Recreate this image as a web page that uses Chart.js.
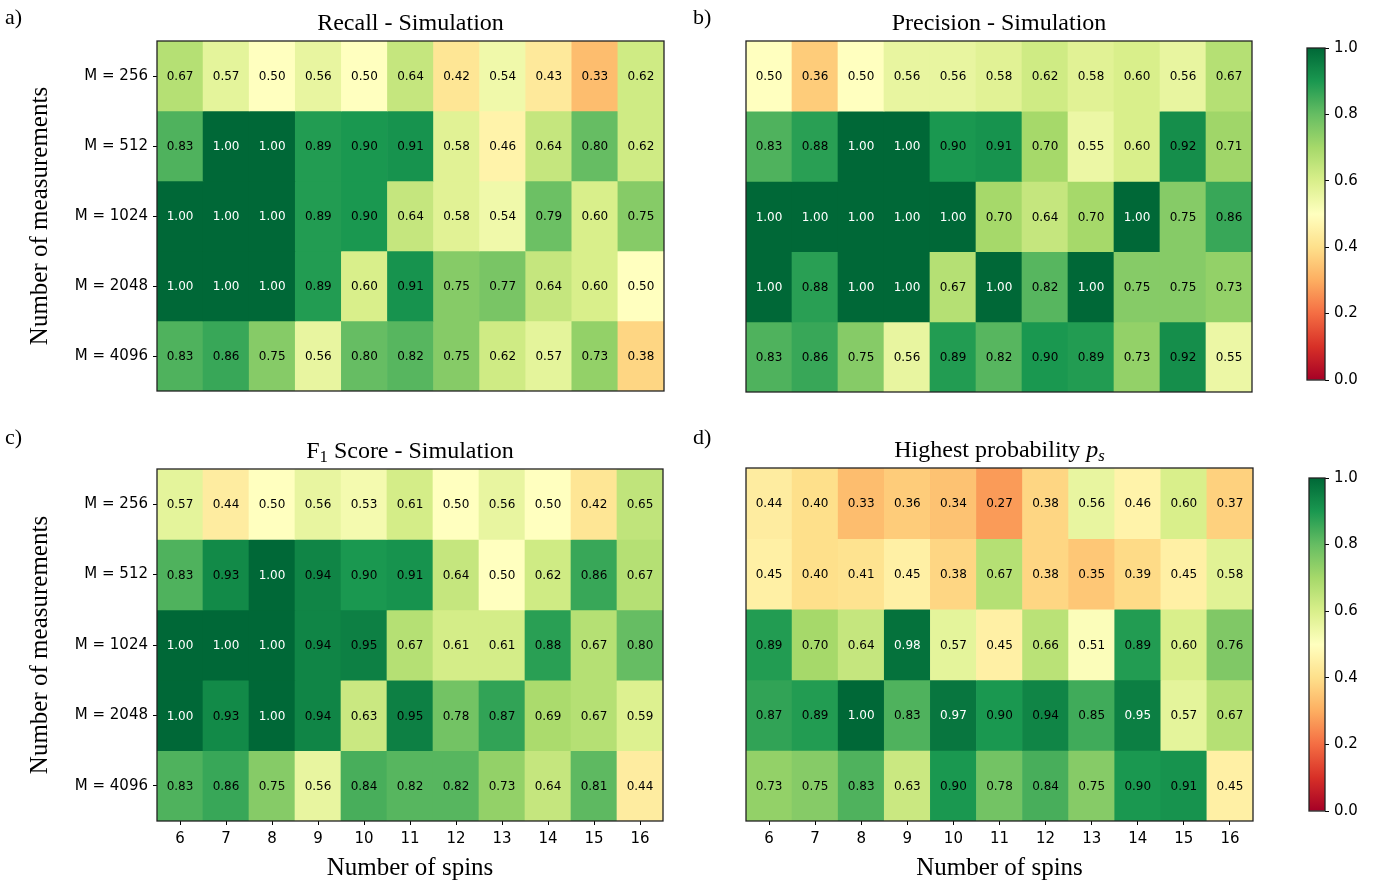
<!DOCTYPE html>
<html>
<head>
<meta charset="utf-8">
<script src="https://cdn.jsdelivr.net/npm/chart.js@4"></script>
<style>
  body { margin: 0; background: #fff; }
  .box { position: absolute; }
</style>
</head>
<body>
<div class="box" style="left:0px;top:0px;width:690px;height:405px"><canvas id="recallCanvas"></canvas></div>
<div class="box" style="left:690px;top:0px;width:600px;height:405px"><canvas id="precisionCanvas"></canvas></div>
<div class="box" style="left:1290px;top:0px;width:101px;height:405px"><canvas id="cbarTop"></canvas></div>
<div class="box" style="left:0px;top:420px;width:690px;height:464px"><canvas id="f1Canvas"></canvas></div>
<div class="box" style="left:690px;top:420px;width:600px;height:464px"><canvas id="probCanvas"></canvas></div>
<div class="box" style="left:1290px;top:420px;width:101px;height:464px"><canvas id="cbarBottom"></canvas></div>
<script>
const spins = ['6', '7', '8', '9', '10', '11', '12', '13', '14', '15', '16'];
const measurements = ['M = 256', 'M = 512', 'M = 1024', 'M = 2048', 'M = 4096'];
const colorbarTicks = [0, 0.2, 0.4, 0.6, 0.8, 1.0];

const recall = [
    [0.67, 0.57, 0.50, 0.56, 0.50, 0.64, 0.42, 0.54, 0.43, 0.33, 0.62],
    [0.83, 1.00, 1.00, 0.89, 0.90, 0.91, 0.58, 0.46, 0.64, 0.80, 0.62],
    [1.00, 1.00, 1.00, 0.89, 0.90, 0.64, 0.58, 0.54, 0.79, 0.60, 0.75],
    [1.00, 1.00, 1.00, 0.89, 0.60, 0.91, 0.75, 0.77, 0.64, 0.60, 0.50],
    [0.83, 0.86, 0.75, 0.56, 0.80, 0.82, 0.75, 0.62, 0.57, 0.73, 0.38]
];
const precision = [
    [0.50, 0.36, 0.50, 0.56, 0.56, 0.58, 0.62, 0.58, 0.60, 0.56, 0.67],
    [0.83, 0.88, 1.00, 1.00, 0.90, 0.91, 0.70, 0.55, 0.60, 0.92, 0.71],
    [1.00, 1.00, 1.00, 1.00, 1.00, 0.70, 0.64, 0.70, 1.00, 0.75, 0.86],
    [1.00, 0.88, 1.00, 1.00, 0.67, 1.00, 0.82, 1.00, 0.75, 0.75, 0.73],
    [0.83, 0.86, 0.75, 0.56, 0.89, 0.82, 0.90, 0.89, 0.73, 0.92, 0.55]
];
const f1Score = [
    [0.57, 0.44, 0.50, 0.56, 0.53, 0.61, 0.50, 0.56, 0.50, 0.42, 0.65],
    [0.83, 0.93, 1.00, 0.94, 0.90, 0.91, 0.64, 0.50, 0.62, 0.86, 0.67],
    [1.00, 1.00, 1.00, 0.94, 0.95, 0.67, 0.61, 0.61, 0.88, 0.67, 0.80],
    [1.00, 0.93, 1.00, 0.94, 0.63, 0.95, 0.78, 0.87, 0.69, 0.67, 0.59],
    [0.83, 0.86, 0.75, 0.56, 0.84, 0.82, 0.82, 0.73, 0.64, 0.81, 0.44]
];
const highestProb = [
    [0.44, 0.40, 0.33, 0.36, 0.34, 0.27, 0.38, 0.56, 0.46, 0.60, 0.37],
    [0.45, 0.40, 0.41, 0.45, 0.38, 0.67, 0.38, 0.35, 0.39, 0.45, 0.58],
    [0.89, 0.70, 0.64, 0.98, 0.57, 0.45, 0.66, 0.51, 0.89, 0.60, 0.76],
    [0.87, 0.89, 1.00, 0.83, 0.97, 0.90, 0.94, 0.85, 0.952, 0.57, 0.67],
    [0.73, 0.75, 0.83, 0.63, 0.90, 0.78, 0.84, 0.75, 0.90, 0.91, 0.45]
];

// RdYlGn colormap (matplotlib)
const cmapStops = ['#a50026', '#d73027', '#f46d43', '#fdae61', '#fee08b', '#ffffbf',
                   '#d9ef8b', '#a6d96a', '#66bd63', '#1a9850', '#006837'];

function hexToRgb(h) {
    return [parseInt(h.slice(1, 3), 16), parseInt(h.slice(3, 5), 16), parseInt(h.slice(5, 7), 16)];
}

function rdylgn(v) {
    let t = Math.min(Math.max(v, 0), 1) * 10;
    let i = Math.min(Math.floor(t), 9);
    let f = t - i;
    let a = hexToRgb(cmapStops[i]), b = hexToRgb(cmapStops[i + 1]);
    let c = a.map((x, k) => Math.round(x + (b[k] - x) * f));
    return 'rgb(' + c.join(',') + ')';
}

const serif = 'Liberation Serif';
const tickFont = { family: 'DejaVu Sans', size: 15 };
const labelFont = { family: serif, size: 25 };

const panelDecor = {
    id: 'panelDecor',
    afterDraw(chart, args, opts) {
        const ctx = chart.ctx;
        const area = chart.chartArea;
        ctx.save();
        // cell annotations
        if (opts.values) {
            const xs = chart.scales.x, ys = chart.scales.y;
            ctx.font = '12px "DejaVu Sans"';
            ctx.textAlign = 'center';
            ctx.textBaseline = 'middle';
            opts.values.forEach((row, r) => {
                row.forEach((v, c) => {
                    ctx.fillStyle = v > 0.95 ? '#ffffff' : '#000000';
                    ctx.fillText(v.toFixed(2), xs.getPixelForValue(c), ys.getPixelForValue(r + 0.5) + 1);
                });
            });
        }
        // frame
        ctx.strokeStyle = '#222';
        ctx.lineWidth = 1.3;
        ctx.strokeRect(area.left, area.top, area.right - area.left, area.bottom - area.top);
        // title with optional italic / subscript parts
        if (opts.title) {
            const parts = opts.title;
            const size = 24;
            const fontFor = p => (p.italic ? 'italic ' : '') + (p.sub ? size * 0.7 : size) + 'px "' + serif + '"';
            let total = 0;
            parts.forEach(p => { ctx.font = fontFor(p); total += ctx.measureText(p.t).width; });
            let x = (area.left + area.right) / 2 - total / 2;
            const y = area.top - opts.titleGap;
            ctx.fillStyle = '#000';
            ctx.textAlign = 'left';
            ctx.textBaseline = 'alphabetic';
            parts.forEach(p => {
                ctx.font = fontFor(p);
                ctx.fillText(p.t, x, y + (p.sub ? 4 : 0));
                x += ctx.measureText(p.t).width;
            });
        }
        // panel letter
        if (opts.letter) {
            ctx.font = '22px "' + serif + '"';
            ctx.fillStyle = '#000';
            ctx.textAlign = 'left';
            ctx.textBaseline = 'alphabetic';
            ctx.fillText(opts.letter, opts.letterX, opts.letterY);
        }
        ctx.restore();
    }
};

function generateHeatmap(canvasId, values, cfg) {
    let ds = values.map((row, r) => ({
        data: row.map(() => [r, r + 1]),
        backgroundColor: row.map(v => rdylgn(v)),
        borderWidth: 0,
        grouped: false,
        categoryPercentage: 1,
        barPercentage: 1
    }));
    new Chart(document.getElementById(canvasId), {
        type: 'bar',
        data: { labels: spins, datasets: ds },
        options: {
            responsive: true,
            maintainAspectRatio: false,
            animation: false,
            events: [],
            layout: { padding: cfg.padding },
            plugins: {
                legend: { display: false },
                tooltip: { enabled: false },
                panelDecor: {
                    values: values,
                    title: cfg.title,
                    titleGap: 11,
                    letter: cfg.letter,
                    letterX: cfg.letterX,
                    letterY: 24
                }
            },
            scales: {
                x: {
                    display: cfg.showX,
                    grid: { display: true, drawOnChartArea: false, offset: false, tickLength: 4, color: '#000', lineWidth: 1 },
                    border: { display: false },
                    ticks: { color: '#000', font: tickFont, padding: 5, maxRotation: 0, autoSkip: false },
                    title: { display: true, text: 'Number of spins', color: '#000', font: labelFont, padding: { top: 0, bottom: 1 } },
                    afterFit: s => { s.height = cfg.showX ? cfg.xHeight : 0; }
                },
                y: {
                    display: cfg.showY,
                    min: 0,
                    max: 5,
                    reverse: true,
                    afterBuildTicks: s => { s.ticks = measurements.map((m, i) => ({ value: i + 0.5 })); },
                    grid: { display: true, drawOnChartArea: false, tickLength: 4, color: '#000', lineWidth: 1 },
                    border: { display: false },
                    ticks: { color: '#000', font: tickFont, padding: 5, callback: (v, i) => measurements[i] },
                    title: { display: true, text: 'Number of measurements', color: '#000', font: labelFont, padding: { top: 25, bottom: 0 } },
                    afterFit: s => { s.width = cfg.showY ? 157 : 0; }
                }
            }
        },
        plugins: [panelDecor]
    });
}

function generateColorbar(canvasId, padding) {
    new Chart(document.getElementById(canvasId), {
        type: 'bar',
        data: {
            labels: [''],
            datasets: [{
                data: [[0, 1]],
                borderWidth: 0,
                categoryPercentage: 1,
                barPercentage: 1,
                backgroundColor: (c) => {
                    const chart = c.chart;
                    const ys = chart.scales.y;
                    if (!ys || !chart.chartArea) return '#fff';
                    const y0 = ys.getPixelForValue(0), y1 = ys.getPixelForValue(1);
                    if (!isFinite(y0) || !isFinite(y1)) return '#fff';
                    const g = chart.ctx.createLinearGradient(0, y0, 0, y1);
                    for (let k = 0; k <= 50; k++) g.addColorStop(k / 50, rdylgn(k / 50));
                    return g;
                }
            }]
        },
        options: {
            responsive: true,
            maintainAspectRatio: false,
            animation: false,
            events: [],
            layout: { padding: padding },
            plugins: { legend: { display: false }, tooltip: { enabled: false }, panelDecor: {} },
            scales: {
                x: { display: false },
                y: {
                    position: 'right',
                    min: 0,
                    max: 1,
                    afterBuildTicks: s => { s.ticks = colorbarTicks.map(v => ({ value: v })); },
                    grid: { display: true, drawOnChartArea: false, tickLength: 4, color: '#000', lineWidth: 1 },
                    border: { display: false },
                    ticks: { color: '#000', font: tickFont, padding: 5, callback: v => v.toFixed(1) },
                    afterFit: s => { s.width = 66; }
                }
            }
        },
        plugins: [panelDecor]
    });
}

generateHeatmap('recallCanvas', recall, {
    padding: { left: 0, top: 41, right: 26, bottom: 13 },
    showX: false, showY: true, xHeight: 0,
    title: [{ t: 'Recall - Simulation' }],
    letter: 'a)', letterX: 5
});
generateHeatmap('precisionCanvas', precision, {
    padding: { left: 56, top: 41, right: 38, bottom: 13 },
    showX: false, showY: false, xHeight: 0,
    title: [{ t: 'Precision - Simulation' }],
    letter: 'b)', letterX: 3
});
generateHeatmap('f1Canvas', f1Score, {
    padding: { left: 0, top: 49, right: 27, bottom: 0 },
    showX: true, showY: true, xHeight: 63,
    title: [{ t: 'F' }, { t: '1', sub: true }, { t: ' Score - Simulation' }],
    letter: 'c)', letterX: 5
});
generateHeatmap('probCanvas', highestProb, {
    padding: { left: 56, top: 48, right: 37, bottom: 0 },
    showX: true, showY: false, xHeight: 63,
    title: [{ t: 'Highest probability ' }, { t: 'p', italic: true }, { t: 's', italic: true, sub: true }],
    letter: 'd)', letterX: 3
});

generateColorbar('cbarTop', { left: 17, top: 48, right: 0, bottom: 25 });
generateColorbar('cbarBottom', { left: 19, top: 58, right: 0, bottom: 73 });
</script>
</body>
</html>
